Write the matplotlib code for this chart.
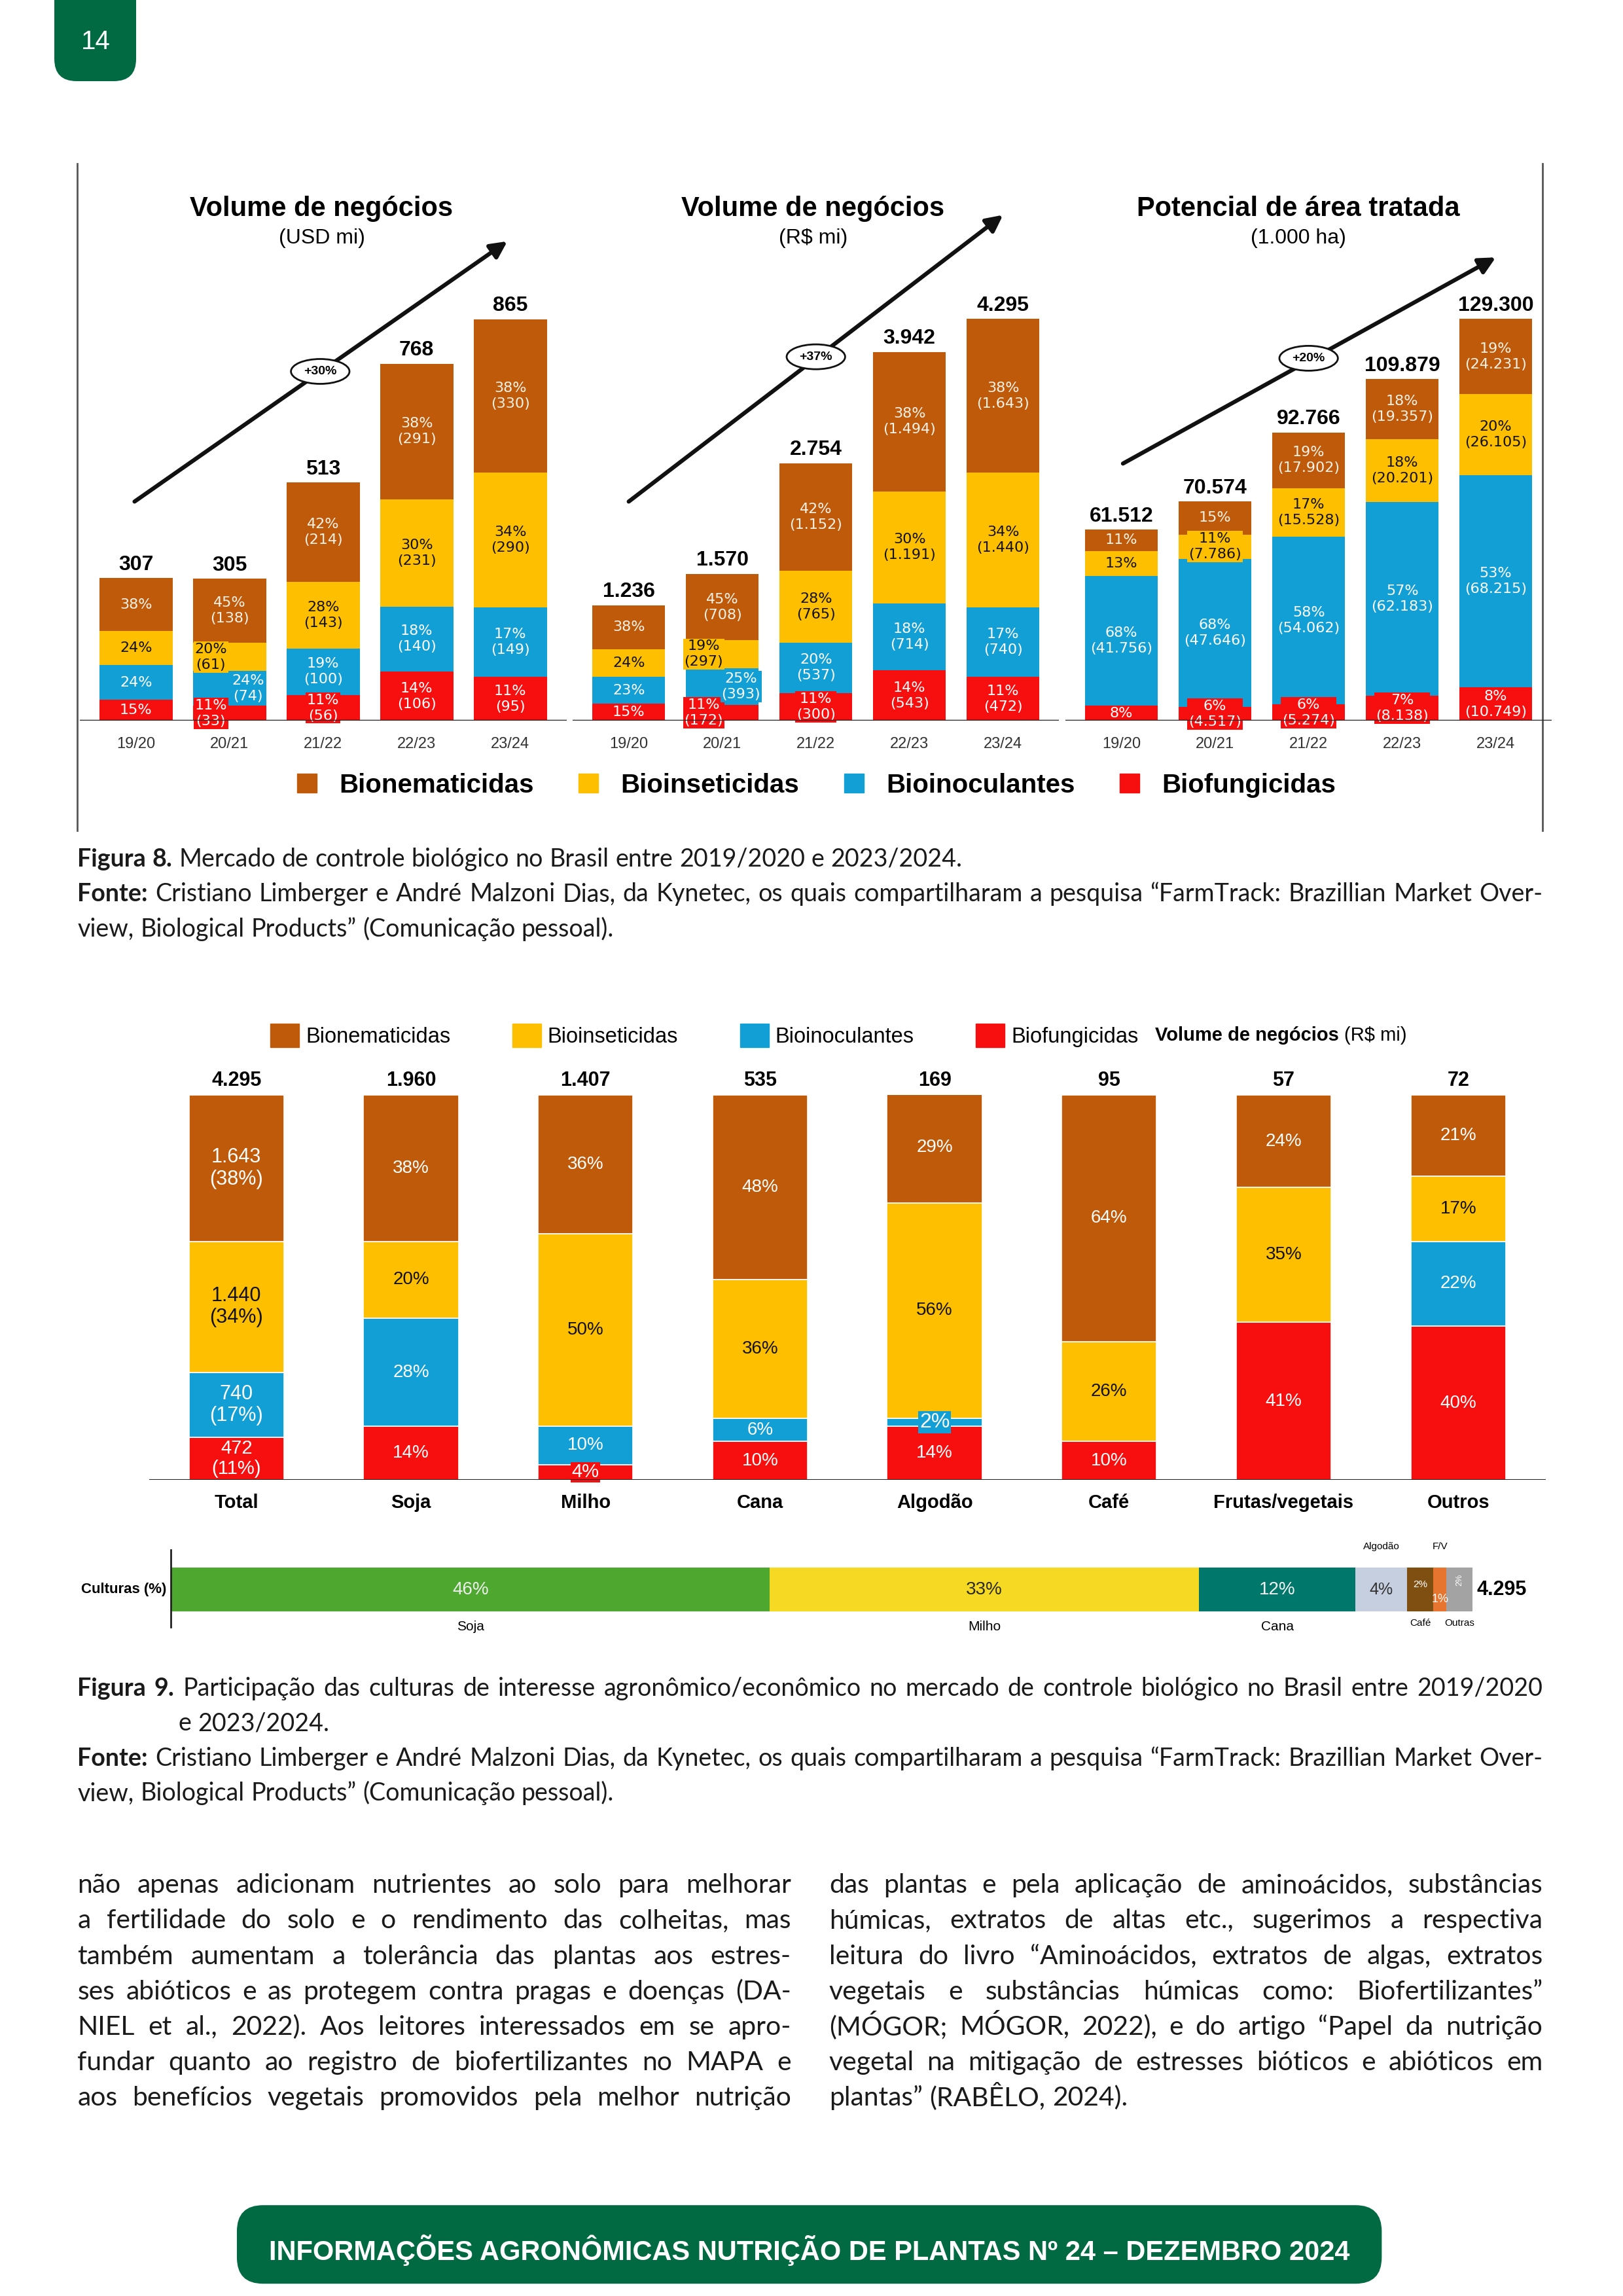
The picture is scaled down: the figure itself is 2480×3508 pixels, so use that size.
import matplotlib
matplotlib.use("Agg")
import matplotlib.pyplot as plt
from matplotlib import font_manager
from matplotlib.patches import FancyBboxPatch, Ellipse, Patch

W, H = 2480, 3508
S = W / 1110.0          # layout was measured on a 1110 px wide view of the page

# ---------------- data: figura 8 ----------------
seasons = ["19/20", "20/21", "21/22", "22/23", "23/24"]
legend_names = ["Bionematicidas", "Bioinseticidas", "Bioinoculantes", "Biofungicidas"]

# stacks go bottom -> top: fungicidas, inoculantes, inseticidas, nematicidas
usd_total = [307, 305, 513, 768, 865]
usd_fung = [46, 33, 56, 106, 95]
usd_inoc = [74, 74, 100, 140, 149]
usd_inset = [74, 61, 143, 231, 290]
usd_nemat = [113, 138, 214, 291, 330]
usd_fung_pct = [15, 11, 11, 14, 11]
usd_inoc_pct = [24, 24, 19, 18, 17]
usd_inset_pct = [24, 20, 28, 30, 34]
usd_nemat_pct = [38, 45, 42, 38, 38]

brl_total = [1236, 1570, 2754, 3942, 4295]
brl_fung = [185, 172, 300, 543, 472]
brl_inoc = [284, 393, 537, 714, 740]
brl_inset = [297, 297, 765, 1191, 1440]
brl_nemat = [470, 708, 1152, 1494, 1643]
brl_fung_pct = [15, 11, 11, 14, 11]
brl_inoc_pct = [23, 25, 20, 18, 17]
brl_inset_pct = [24, 19, 28, 30, 34]
brl_nemat_pct = [38, 45, 42, 38, 38]

area_total = [61512, 70574, 92766, 109879, 129300]
area_fung = [4921, 4517, 5274, 8138, 10749]
area_inoc = [41756, 47646, 54062, 62183, 68215]
area_inset = [7997, 7786, 15528, 20201, 26105]
area_nemat = [6838, 10625, 17902, 19357, 24231]
area_fung_pct = [8, 6, 6, 7, 8]
area_inoc_pct = [68, 68, 58, 57, 53]
area_inset_pct = [13, 11, 17, 18, 20]
area_nemat_pct = [11, 15, 19, 18, 19]

growth = ["+30%", "+37%", "+20%"]
titles = ["Volume de negócios", "Volume de negócios", "Potencial de área tratada"]
units = ["(USD mi)", "(R$ mi)", "(1.000 ha)"]

# ---------------- data: figura 9 ----------------
crops = ["Total", "Soja", "Milho", "Cana", "Algodão", "Café", "Frutas/vegetais", "Outros"]
crop_total = [4295, 1960, 1407, 535, 169, 95, 57, 72]
crop_fung = [11, 14, 4, 10, 14, 10, 41, 40]
crop_inoc = [17, 28, 10, 6, 2, 0, 0, 22]
crop_inset = [34, 20, 50, 36, 56, 26, 35, 17]
crop_nemat = [38, 38, 36, 48, 29, 64, 24, 21]
total_values = [472, 740, 1440, 1643]   # R$ mi of the "Total" column, same stack order

cult_names = ["Soja", "Milho", "Cana", "Algodão", "Café", "F/V", "Outras"]
cult_share = [46, 33, 12, 4, 2, 1, 2]
cult_total = 4295

# ---------------- styles ----------------
BROWN, YELLOW, BLUE, RED = "#BF5A0A", "#FDBF00", "#129FD6", "#F70F0F"
stack_colors = [RED, BLUE, YELLOW, BROWN]
stack_text = ["white", "white", "#111111", "#FBF3E8"]
legend_colors = [BROWN, YELLOW, BLUE, RED]
cult_colors = ["#4EA72E", "#F5D923", "#00776B", "#C6CFDF", "#7F4F12", "#E7742F", "#A3A3A3"]
GREEN = "#016A43"
INK = "#1A1A1A"

names = {f.name for f in font_manager.fontManager.ttflist}
BODY = "Lato" if "Lato" in names else "DejaVu Sans"
ARIAL = "Liberation Sans"


def br(v):
    return f"{v:,}".replace(",", ".")


fig = plt.figure(figsize=(W / 100, H / 100), dpi=100)
renderer = fig.canvas.get_renderer()

page = fig.add_axes([0, 0, 1, 1])
page.set_xlim(0, W)
page.set_ylim(H, 0)
page.axis("off")


def add_ax(x0, y0, x1, y1):
    ax = fig.add_axes([x0 * S / W, 1 - y1 * S / H, (x1 - x0) * S / W, (y1 - y0) * S / H])
    ax.set_facecolor("none")
    return ax


def width_of(s, size, weight="normal", family=BODY):
    t = page.text(0, 0, s, fontsize=size, weight=weight, family=family)
    w = t.get_window_extent(renderer).width
    t.remove()
    return w


def fit_size(runs, width, family=BODY):
    tot = sum(width_of(s, 10, "bold" if b else "normal", family) for s, b in runs)
    tot += width_of("a a", 10, family=family) - width_of("aa", 10, family=family)
    return 10 * width * S / tot


def text_line(runs, x0, y, size, x1=None, family=BODY, color=INK):
    words = [(w, b) for s, b in runs for w in s.split()]
    arts = []
    for w, b in words:
        t = page.text(0, (y + 4.5) * S, w, fontsize=size, family=family, color=color,
                      weight="bold" if b else "normal", va="baseline", ha="left")
        arts.append((t, t.get_window_extent(renderer).width))
    sp = width_of("a a", size, family=family) - width_of("aa", size, family=family)
    used = sum(a[1] for a in arts)
    gap = sp if x1 is None else ((x1 - x0) * S - used) / (len(arts) - 1)
    x = x0 * S
    for t, w in arts:
        t.set_x(x)
        x += w + gap


# ---------------- page furniture ----------------
page.add_patch(FancyBboxPatch((83, -60), 125, 184, boxstyle="round,pad=0,rounding_size=34",
                              fc=GREEN, ec="none"))
page.text(146, 64, "14", color="white", fontsize=29, family=ARIAL, ha="center", va="center")

foot = "INFORMAÇÕES AGRONÔMICAS NUTRIÇÃO DE PLANTAS Nº 24 – DEZEMBRO 2024"
page.add_patch(FancyBboxPatch((162 * S, 1508 * S), 783 * S, 120, boxstyle="round,pad=0,rounding_size=40",
                              fc=GREEN, ec="none"))
fsize = 10 * 738 * S / width_of(foot, 10, "bold", ARIAL)
page.text(553.5 * S, 1539 * S, foot, color="white", fontsize=fsize, weight="bold", family=ARIAL,
          ha="center", va="center")

# ---------------- figura 8 ----------------
for xl in (53, 1055):
    page.plot([xl * S, xl * S], [112 * S, 568 * S], color="#555555", lw=2)

panels = [
    (usd_total, [usd_fung, usd_inoc, usd_inset, usd_nemat],
     [usd_fung_pct, usd_inoc_pct, usd_inset_pct, usd_nemat_pct]),
    (brl_total, [brl_fung, brl_inoc, brl_inset, brl_nemat],
     [brl_fung_pct, brl_inoc_pct, brl_inset_pct, brl_nemat_pct]),
    (area_total, [area_fung, area_inoc, area_inset, area_nemat],
     [area_fung_pct, area_inoc_pct, area_inset_pct, area_nemat_pct]),
]
# first bar centre, title centre, trend arrow and badge (1110 px view)
layout = [
    dict(c0=93, tx=220, arrow=((92, 343), (347, 165)), badge=(219, 254)),
    dict(c0=430, tx=556, arrow=((430, 343), (686, 147)), badge=(558, 244)),
    dict(c0=767, tx=888, arrow=((768, 317), (1023, 176)), badge=(895, 245)),
]
# (stack, season) whose value in parentheses is not printed
hidden = [
    {(k, 0) for k in range(4)},
    {(k, 0) for k in range(4)},
    {(0, 0), (2, 0), (3, 0), (3, 1)},
]
# labels drawn on a patch of their own colour, with a sideways shift
boxed = [
    {(0, 1): -0.2, (1, 1): 0.2, (2, 1): -0.2, (0, 2): 0.0},
    {(0, 1): -0.2, (1, 1): 0.2, (2, 1): -0.2, (0, 2): 0.0},
    {(0, 1): 0.0, (0, 2): 0.0, (0, 3): 0.0, (2, 1): 0.0, (3, 1): 0.0},
]

for p, (totals, parts, pcts) in enumerate(panels):
    lay = layout[p]
    step = 64
    ax = add_ax(lay["c0"] - 0.6 * step, 218, lay["c0"] + 4.6 * step, 493)
    x = range(len(seasons))
    bottom = [0] * len(seasons)
    for k in range(4):
        ax.bar(x, parts[k], bottom=bottom, width=0.78, color=stack_colors[k], linewidth=0)
        for i in x:
            lab = f"{pcts[k][i]}%"
            if (k, i) not in hidden[p]:
                lab += f"\n({br(parts[k][i])})"
            kw = dict(ha="center", va="center", fontsize=16, family="DejaVu Sans",
                      color=stack_text[k], linespacing=1.25)
            dx = 0
            if (k, i) in boxed[p]:
                dx = boxed[p][(k, i)]
                kw["bbox"] = dict(boxstyle="square,pad=0.08", fc=stack_colors[k], ec="none")
            ax.text(i + dx, bottom[i] + parts[k][i] / 2, lab, clip_on=False, zorder=4, **kw)
        bottom = [b + v for b, v in zip(bottom, parts[k])]
    for i in x:
        ax.annotate(br(totals[i]), (i, totals[i]), xytext=(0, 4), textcoords="offset points",
                    ha="center", va="bottom", fontsize=23, weight="bold", family=ARIAL)
    ax.set_xlim(-0.6, 4.6)
    ax.set_ylim(0, max(totals))
    ax.axhline(0, color="#222222", lw=2.5, zorder=5)
    ax.set_xticks(list(x), seasons, fontsize=17, family=ARIAL, color="#333333")
    ax.tick_params(axis="x", length=0, pad=18)
    ax.set_yticks([])
    for sp in ax.spines.values():
        sp.set_visible(False)

    page.text(lay["tx"] * S, 143 * S, titles[p], fontsize=30, weight="bold", family=ARIAL,
              ha="center", va="center")
    page.text(lay["tx"] * S, 163 * S, units[p], fontsize=23, family=ARIAL, ha="center", va="center")
    (ax0, ay0), (ax1, ay1) = lay["arrow"]
    page.annotate("", xy=(ax1 * S, ay1 * S), xytext=(ax0 * S, ay0 * S),
                  arrowprops=dict(arrowstyle="-|>", lw=4.5, color="#111111", mutation_scale=38,
                                  shrinkA=0, shrinkB=0))
    bx, by = lay["badge"]
    page.add_patch(Ellipse((bx * S, by * S), 40 * S, 17 * S, fc="white", ec="#111111", lw=2, zorder=5))
    page.text(bx * S, by * S, growth[p], fontsize=14, weight="bold", family=ARIAL,
              ha="center", va="center", zorder=6)

fig.legend([Patch(color=c) for c in legend_colors], legend_names, loc="center left",
           bbox_to_anchor=(203 * S / W, 1 - 537 * S / H), ncol=4, frameon=False,
           prop=dict(family=ARIAL, weight="bold", size=29), handlelength=0.75, handleheight=0.75,
           handletextpad=0.85, columnspacing=1.7, borderpad=0, borderaxespad=0)

cap = fit_size([("Figura 8.", True), ("Mercado de controle biológico no Brasil entre 2019/2020 e 2023/2024.", False)],
               658 - 53)
text_line([("Figura 8.", True), ("Mercado de controle biológico no Brasil entre 2019/2020 e 2023/2024.", False)],
          53, 588, cap)
text_line([("Fonte:", True), ("Cristiano Limberger e André Malzoni Dias, da Kynetec, os quais compartilharam "
                               "a pesquisa “FarmTrack: Brazillian Market Over-", False)], 53, 612, cap, x1=1055)
text_line([("view, Biological Products” (Comunicação pessoal).", False)], 53, 636, cap)

# ---------------- figura 9 ----------------
ax9 = add_ax(102, 749, 1057, 1012)
crop_parts = [crop_fung, crop_inoc, crop_inset, crop_nemat]
xs = range(len(crops))
bottom = [0] * len(crops)
special = {(0, 0): 21, (0, 2): 21, (1, 4): 23}   # small segments with their own colour patch
for k in range(4):
    ax9.bar(xs, crop_parts[k], bottom=bottom, width=0.545, color=stack_colors[k],
            edgecolor="white", linewidth=1.2)
    for i in xs:
        v = crop_parts[k][i]
        if v == 0:
            continue
        lab = f"{br(total_values[k])}\n({v}%)" if i == 0 else f"{v}%"
        kw = dict(ha="center", va="center", family=ARIAL, color="#111111" if k == 2 else "white",
                  fontsize=22 if i == 0 else 20, linespacing=1.15)
        if (k, i) in special:
            kw["fontsize"] = special[(k, i)]
            kw["bbox"] = dict(boxstyle="square,pad=0.05", fc=stack_colors[k], ec="none")
        ax9.text(i, bottom[i] + v / 2, lab, clip_on=False, zorder=4, **kw)
    bottom = [b + v for b, v in zip(bottom, crop_parts[k])]
for i in xs:
    ax9.annotate(br(crop_total[i]), (i, 100), xytext=(0, 5), textcoords="offset points",
                 ha="center", va="bottom", fontsize=22, weight="bold", family=ARIAL)
ax9.set_xlim(-0.5, 7.5)
ax9.set_ylim(0, 100)
ax9.axhline(0, color="#222222", lw=2.2, zorder=5)
ax9.set_xticks(list(xs), crops, fontsize=21, weight="bold", family=ARIAL)
ax9.tick_params(axis="x", length=0, pad=15)
ax9.set_yticks([])
for sp in ax9.spines.values():
    sp.set_visible(False)

fig.legend([Patch(color=c) for c in legend_colors], legend_names, loc="center left",
           bbox_to_anchor=(185 * S / W, 1 - 708 * S / H), ncol=4, frameon=False,
           prop=dict(family=ARIAL, size=23.5), handlelength=1.35, handleheight=1.35,
           handletextpad=0.3, columnspacing=2.9, borderpad=0, borderaxespad=0)
t = page.text(790 * S, 708 * S, "Volume de negócios", fontsize=21, weight="bold", family=ARIAL, va="center")
page.text(790 * S + t.get_window_extent(renderer).width + 8, 708 * S, "(R$ mi)", fontsize=21,
          family=ARIAL, va="center")

# culturas strip
axc = add_ax(117, 1072, 1007, 1102)
left = 0
# label colour, size, vertical shift, rotation, where the name goes
cult_style = [
    ("#EDEDED", 20, 0, 0, "below"),
    ("#2A2A2A", 20, 0, 0, "below"),
    ("#F2F2F2", 20, 0, 0, "below"),
    ("#333333", 18, 0, 0, "above"),
    ("#FFFFFF", 11, 0.12, 0, "under"),
    ("#FFFFFF", 13, -0.22, 0, "above"),
    ("#FFFFFF", 9, 0.22, 90, "under"),
]
for name, v, c, st in zip(cult_names, cult_share, cult_colors, cult_style):
    axc.barh(0, v, left=left, height=1, color=c, linewidth=0)
    mid = left + v / 2
    axc.text(mid, st[2], f"{v}%", color=st[0], fontsize=st[1], rotation=st[3], family=ARIAL,
             ha="center", va="center")
    if st[4] == "below":
        axc.text(mid, -0.85, name, fontsize=15, family=ARIAL, ha="center", va="center", clip_on=False)
    elif st[4] == "above":
        axc.text(mid, 0.98, name, fontsize=11, family=ARIAL, ha="center", va="center", clip_on=False)
    else:
        axc.text(mid, -0.77, name, fontsize=11, family=ARIAL, ha="center", va="center", clip_on=False)
    left += v
axc.set_xlim(0, 100)
axc.set_ylim(-0.5, 0.5)
axc.axis("off")
axc.axvline(0, ymin=-0.35, ymax=1.4, color="#222222", lw=2, clip_on=False)
axc.annotate("Culturas (%)", (0, 0), xytext=(-5, 0), textcoords="offset points", ha="right",
             va="center", fontsize=16, weight="bold", family=ARIAL)
axc.annotate(br(cult_total), (100, 0), xytext=(5, 0), textcoords="offset points", ha="left",
             va="center", fontsize=22, weight="bold", family=ARIAL)

text_line([("Figura 9.", True), ("Participação das culturas de interesse agronômico/econômico no mercado de "
                                  "controle biológico no Brasil entre 2019/2020", False)], 53, 1155, cap, x1=1055)
text_line([("e 2023/2024.", False)], 122, 1179, cap)
text_line([("Fonte:", True), ("Cristiano Limberger e André Malzoni Dias, da Kynetec, os quais compartilharam "
                               "a pesquisa “FarmTrack: Brazillian Market Over-", False)], 53, 1203, cap, x1=1055)
text_line([("view, Biological Products” (Comunicação pessoal).", False)], 53, 1227, cap)

# ---------------- body text ----------------
left_col = [
    "não apenas adicionam nutrientes ao solo para melhorar",
    "a fertilidade do solo e o rendimento das colheitas, mas",
    "também aumentam a tolerância das plantas aos estres-",
    "ses abióticos e as protegem contra pragas e doenças (DA-",
    "NIEL et al., 2022). Aos leitores interessados em se apro-",
    "fundar quanto ao registro de biofertilizantes no MAPA e",
    "aos benefícios vegetais promovidos pela melhor nutrição",
]
right_col = [
    "das plantas e pela aplicação de aminoácidos, substâncias",
    "húmicas, extratos de altas etc., sugerimos a respectiva",
    "leitura do livro “Aminoácidos, extratos de algas, extratos",
    "vegetais e substâncias húmicas como: Biofertilizantes”",
    "(MÓGOR; MÓGOR, 2022), e do artigo “Papel da nutrição",
    "vegetal na mitigação de estresses bióticos e abióticos em",
    "plantas” (RABÊLO, 2024).",
]
body = fit_size([(right_col[-1], False)], 776 - 567)
for n, line in enumerate(left_col):
    text_line([(line, False)], 53, 1290 + 24.25 * n, body, x1=541)
for n, line in enumerate(right_col):
    last = n == len(right_col) - 1
    text_line([(line, False)], 567, 1290 + 24.25 * n, body, x1=None if last else 1055)

fig.savefig("out.png", dpi=100)
